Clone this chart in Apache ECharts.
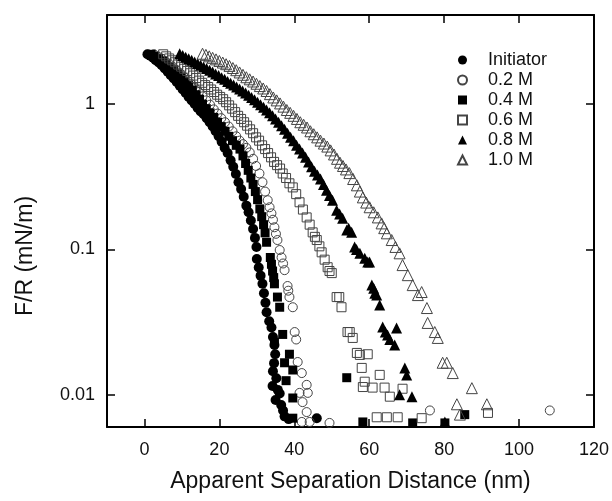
<!DOCTYPE html>
<html>
<head>
<meta charset="utf-8">
<script src="https://cdn.jsdelivr.net/npm/echarts@6.0.0/dist/echarts.min.js"></script>
<style>
  html, body { margin: 0; padding: 0; background: #fff; }
  #chart { width: 612px; height: 501px; }
</style>
</head>
<body>
<div id="chart"></div>
<script>
// values: [distance nm, F/R mN/m]
var seriesNames = ['Initiator', '0.2 M', '0.4 M', '0.6 M', '0.8 M', '1.0 M'];
var xTicks = [0, 20, 40, 60, 80, 100, 120];
var yTicks = [0.01, 0.1, 1];

var initiator = [
    [0.8,2.2],[1.5,2.15],[2.3,2.08],[3.0,2.0],[3.8,1.93],[4.6,1.85],[5.4,1.76],[6.2,1.67],[7.0,1.58],[7.8,1.5],
    [8.6,1.42],[9.4,1.34],[10.2,1.26],[11.0,1.19],[11.8,1.12],[12.6,1.06],[13.4,1.0],[14.2,0.94],[15.0,0.89],[15.8,0.85],
    [16.6,0.8],[17.4,0.75],[18.2,0.7],[19.0,0.65],[19.8,0.6],[20.6,0.55],[21.4,0.5],[22.2,0.46],[23.0,0.41],[23.7,0.37],
    [24.4,0.33],[25.1,0.29],[25.8,0.26],[26.5,0.23],[27.2,0.2],[27.8,0.18],[28.4,0.158],[29.0,0.138],[29.5,0.12],[29.9,0.104],
    [30.0,0.086],[30.5,0.075],[31.0,0.066],[31.5,0.058],[31.9,0.05],[32.3,0.043],[32.6,0.037],[33.3,0.032],[33.9,0.029],[34.3,0.025],
    [34.7,0.022],[34.9,0.019],[34.6,0.0165],[34.3,0.0145],[35.2,0.013],[34.2,0.0115],[35.6,0.0108],[36.1,0.0102],[35.0,0.0092],[36.5,0.0085],
    [37.0,0.0078],[37.4,0.0071],[38.5,0.0068],[46.0,0.0069]
];
var m02 = [
    [2.5,2.2],[3.5,2.13],[4.5,2.06],[5.5,1.98],[6.5,1.9],[7.5,1.81],[8.5,1.72],[9.5,1.63],[10.5,1.54],[11.5,1.45],
    [12.5,1.37],[13.5,1.29],[14.5,1.21],[15.5,1.13],[16.5,1.06],[17.5,0.99],[18.5,0.92],[19.5,0.86],[20.5,0.8],[21.5,0.75],
    [22.5,0.7],[23.5,0.65],[24.5,0.6],[25.4,0.56],[26.3,0.53],[27.2,0.5],[28.1,0.465],[29.0,0.42],[29.8,0.375],[30.7,0.333],
    [31.5,0.29],[32.2,0.25],[32.9,0.218],[33.4,0.195],[33.9,0.177],[34.3,0.16],[34.7,0.142],[35.1,0.128],[35.5,0.116],[36.1,0.099],
    [36.6,0.088],[37.0,0.08],[37.4,0.072],[38.2,0.056],[38.4,0.052],[38.7,0.047],[39.6,0.04],[40.1,0.027],[40.5,0.024],[40.9,0.0168],
    [42.0,0.0141],[43.3,0.0117],[41.4,0.0103],[43.6,0.0103],[42.2,0.0089],[43.3,0.0076],[42.0,0.0065],[44.1,0.0065],[49.4,0.0064],[76.2,0.0078],
    [108.2,0.0078]
];
var m04 = [
    [1.8,2.2],[2.8,2.13],[3.8,2.05],[4.8,1.97],[5.8,1.88],[6.8,1.79],[7.8,1.7],[8.8,1.61],[9.8,1.52],[10.8,1.43],
    [11.8,1.34],[12.8,1.25],[13.8,1.16],[14.7,1.08],[15.5,1.0],[16.5,0.93],[17.5,0.87],[18.5,0.81],[19.5,0.75],[20.5,0.7],
    [21.5,0.65],[22.5,0.6],[23.5,0.56],[24.5,0.52],[25.5,0.49],[26.3,0.44],[27.0,0.39],[27.7,0.35],[28.4,0.31],[29.0,0.28],
    [29.6,0.25],[30.2,0.22],[30.8,0.19],[31.3,0.168],[31.8,0.148],[32.2,0.13],[32.6,0.112],[33.6,0.088],[33.9,0.079],[34.2,0.071],
    [34.5,0.064],[34.7,0.058],[35.5,0.047],[36.1,0.04],[36.9,0.026],[34.7,0.023],[38.7,0.019],[37.4,0.0166],[39.6,0.0148],[37.8,0.0125],
    [39.6,0.0095],[39.6,0.0069],[54.0,0.0131],[58.3,0.0065],[71.6,0.0064],[80.2,0.0064],[85.5,0.0073]
];
var m06 = [
    [5.0,2.2],[5.8,2.13],[6.6,2.06],[7.4,2.0],[8.2,1.94],[9.0,1.87],[9.8,1.81],[10.6,1.75],[11.4,1.69],[12.2,1.63],
    [13.0,1.57],[13.8,1.51],[14.6,1.45],[15.4,1.4],[16.2,1.35],[17.0,1.31],[17.8,1.26],[18.6,1.21],[19.4,1.16],[20.2,1.12],
    [21.0,1.08],[21.8,1.03],[22.6,0.98],[23.4,0.93],[24.2,0.88],[25.0,0.83],[25.8,0.79],[26.6,0.75],[27.4,0.71],[28.2,0.67],
    [29.0,0.63],[29.8,0.59],[30.6,0.56],[31.4,0.52],[32.2,0.49],[33.0,0.46],[33.8,0.43],[34.6,0.4],[35.4,0.38],[36.2,0.36],
    [36.9,0.333],[37.8,0.31],[38.7,0.285],[39.6,0.267],[40.5,0.24],[41.4,0.211],[42.3,0.188],[43.3,0.166],[44.1,0.148],[44.9,0.131],
    [45.5,0.122],[46.0,0.116],[46.7,0.105],[47.3,0.0955],[48.1,0.085],[48.9,0.0754],[49.4,0.071],[50.0,0.0687],[51.3,0.047],[52.0,0.047],
    [52.6,0.04],[54.2,0.027],[54.8,0.027],[55.6,0.0246],[56.7,0.0194],[57.5,0.0188],[59.6,0.019],[58.0,0.0153],[62.8,0.0137],[58.8,0.0123],
    [58.3,0.0113],[60.9,0.0112],[64.1,0.0112],[65.5,0.0097],[68.9,0.011],[62.0,0.007],[64.7,0.007],[67.6,0.007],[74.0,0.0069],[91.7,0.0075]
];
var m08 = [
    [9.4,2.22],[10.2,2.16],[11.0,2.1],[11.8,2.05],[12.6,2.0],[13.4,1.95],[14.2,1.9],[15.0,1.85],[15.8,1.8],[16.6,1.76],
    [17.4,1.71],[18.2,1.66],[19.0,1.61],[19.8,1.57],[20.6,1.52],[21.4,1.48],[22.2,1.43],[23.0,1.39],[23.8,1.35],[24.6,1.31],
    [25.4,1.27],[26.2,1.23],[27.0,1.19],[27.8,1.15],[28.6,1.11],[29.4,1.07],[30.2,1.03],[31.0,0.99],[31.8,0.95],[32.6,0.91],
    [33.4,0.87],[34.2,0.83],[35.0,0.79],[35.8,0.75],[36.6,0.71],[37.4,0.67],[38.2,0.63],[39.0,0.59],[39.8,0.56],[40.6,0.52],
    [41.4,0.49],[42.2,0.46],[43.0,0.43],[43.8,0.4],[44.6,0.37],[45.4,0.345],[46.2,0.325],[47.0,0.305],[47.8,0.28],[48.6,0.255],
    [49.4,0.235],[50.2,0.218],[51.3,0.186],[52.1,0.175],[52.9,0.164],[54.0,0.136],[54.5,0.14],[55.3,0.131],[56.1,0.104],[56.6,0.1],
    [57.5,0.094],[58.8,0.087],[59.6,0.082],[60.1,0.082],[60.7,0.057],[61.2,0.054],[61.5,0.05],[62.0,0.0485],[62.8,0.0414],[63.6,0.0292],
    [64.3,0.027],[64.9,0.0258],[65.5,0.024],[67.3,0.0288],[66.8,0.022],[69.5,0.0153],[70.0,0.0137],[68.1,0.01],[71.4,0.0097],[80.2,0.0065]
];
var m10 = [
    [15.5,2.22],[16.4,2.18],[17.3,2.13],[18.2,2.08],[19.1,2.03],[20.0,1.98],[20.9,1.93],[21.8,1.88],[22.7,1.83],[23.6,1.77],
    [24.5,1.71],[25.4,1.65],[26.3,1.59],[27.2,1.53],[28.1,1.48],[29.0,1.43],[29.9,1.38],[30.8,1.33],[31.7,1.28],[32.6,1.23],
    [33.5,1.17],[34.4,1.11],[35.3,1.06],[36.2,1.01],[37.1,0.96],[38.0,0.91],[38.9,0.87],[39.8,0.83],[40.7,0.79],[41.6,0.75],
    [42.5,0.72],[43.4,0.69],[44.3,0.65],[45.2,0.62],[46.1,0.59],[47.0,0.56],[47.9,0.535],[48.8,0.51],[49.7,0.48],[50.6,0.45],
    [51.4,0.42],[52.2,0.395],[53.0,0.375],[53.8,0.355],[54.7,0.335],[55.7,0.305],[56.7,0.276],[57.5,0.25],[58.3,0.228],[59.2,0.21],
    [60.1,0.195],[61.2,0.18],[62.3,0.166],[63.3,0.151],[64.0,0.14],[64.7,0.129],[66.0,0.116],[67.0,0.104],[68.1,0.094],[68.9,0.078],
    [70.3,0.0665],[71.6,0.0568],[73.0,0.0485],[74.0,0.0509],[75.4,0.0395],[75.6,0.0312],[77.5,0.027],[78.3,0.0246],[79.6,0.0166],[80.7,0.0166],
    [82.3,0.0141],[87.4,0.0111],[83.4,0.0086],[91.4,0.0086],[84.2,0.0073]
];

var allData = [initiator, m02, m04, m06, m08, m10];
var symbols = ['circle', 'circle', 'rect', 'rect', 'triangle', 'triangle'];
var hollow = [false, true, false, true, false, true];
var sizes = [10, 9, 9, 9, 11, 11];

var myChart = echarts.init(document.getElementById('chart'));

function axisBase(pos, showLabel) {
    return {
        position: pos,
        axisLine: { show: true, onZero: false, lineStyle: { color: '#000', width: 2 } },
        axisTick: { show: true, inside: true, length: 8, lineStyle: { color: '#000', width: 1.5 } },
        axisLabel: { show: showLabel, color: '#111', fontSize: 18, fontFamily: 'Liberation Sans, Arial, sans-serif' },
        splitLine: { show: false }
    };
}

var xBottom = axisBase('bottom', true);
xBottom.type = 'value'; xBottom.min = -10; xBottom.max = 120;
xBottom.axisTick.customValues = xTicks;
xBottom.axisLabel.customValues = xTicks;
xBottom.axisLabel.margin = 14;
xBottom.name = 'Apparent Separation Distance (nm)';
xBottom.nameLocation = 'middle';
xBottom.nameGap = 43;
xBottom.nameTextStyle = { fontSize: 23, color: '#111', fontFamily: 'Liberation Sans, Arial, sans-serif' };

var xTop = axisBase('top', false);
xTop.type = 'value'; xTop.min = -10; xTop.max = 120;
xTop.axisTick.customValues = xTicks;

var yLeft = axisBase('left', true);
yLeft.type = 'log'; yLeft.min = 0.006; yLeft.max = 4.1;
yLeft.axisTick.customValues = yTicks;
yLeft.axisLabel.customValues = yTicks;
yLeft.axisLabel.margin = 12;
yLeft.name = 'F/R (mN/m)';
yLeft.nameLocation = 'middle';
yLeft.nameGap = 70;
yLeft.nameTextStyle = { fontSize: 23, color: '#111', fontFamily: 'Liberation Sans, Arial, sans-serif', padding: [0, 70, 0, 0] };

var yRight = axisBase('right', false);
yRight.type = 'log'; yRight.min = 0.006; yRight.max = 4.1;
yRight.axisTick.customValues = yTicks;

var series = allData.map(function (d, i) {
    return {
        name: seriesNames[i],
        type: 'scatter',
        data: d,
        symbol: symbols[i],
        symbolSize: sizes[i],
        itemStyle: hollow[i]
            ? { color: 'rgba(255,255,255,0)', borderColor: '#444', borderWidth: 1, opacity: 1 }
            : { color: '#000', opacity: 1 }
    };
});

var option = {
    animation: false,
    backgroundColor: '#fff',
    grid: { left: 107, right: 18, top: 15, bottom: 74 },
    legend: {
        orient: 'vertical',
        left: 452,
        top: 45,
        itemWidth: 9,
        itemHeight: 9,
        itemGap: 0,
        data: seriesNames,
        textStyle: { fontSize: 18, lineHeight: 20, color: '#111', fontFamily: 'Liberation Sans, Arial, sans-serif', padding: [0, 0, 0, 16] }
    },
    xAxis: [xBottom, xTop],
    yAxis: [yLeft, yRight],
    series: series
};
myChart.setOption(option);
</script>
</body>
</html>
